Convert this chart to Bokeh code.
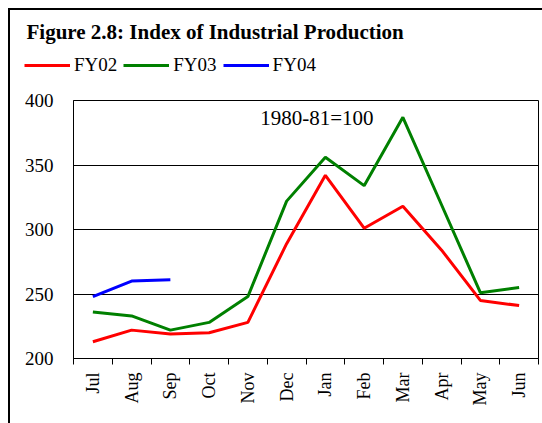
import math
from bokeh.plotting import figure
from bokeh.layouts import column
from bokeh.models import (Legend, LegendItem, Label, FixedTicker,
                          CustomJSTickFormatter, Range1d)
from bokeh.embed import file_html
from bokeh.resources import INLINE

months = ["Jul", "Aug", "Sep", "Oct", "Nov", "Dec", "Jan", "Feb", "Mar", "Apr", "May", "Jun"]
fy02 = [213, 222, 219, 220, 228, 289, 342, 301, 318, 284, 245, 241]
fy03 = [236, 233, 222, 228, 248, 322, 356, 334, 387, 319, 251, 255]
fy04 = [248, 260, 261]
y_ticks = [200, 250, 300, 350, 400]
series_names = ["FY02", "FY03", "FY04"]
series_colors = ["#FF0000", "#008000", "#0000FF"]

FONT = "Liberation Serif"
W = 532

xpos = [i + 0.5 for i in range(len(months))]
series = [fy02, fy03, fy04]

# ---- header: title + legend ----
head = figure(width=W, height=78, output_backend="svg", toolbar_location=None,
              x_axis_type=None, y_axis_type=None,
              x_range=Range1d(-100, -99), y_range=Range1d(-100, -99),
              min_border_left=0, min_border_right=0, min_border_top=33, min_border_bottom=0)
head.frame_align = False
head.outline_line_color = None
head.grid.grid_line_color = None
head.title.text = "Figure 2.8: Index of Industrial Production"
head.title.text_font = FONT
head.title.text_font_size = "21px"
head.title.text_font_style = "bold"
head.title.text_color = "black"
head.title.offset = 16
head.title.standoff = 0

# legend keys: same series drawn outside the header's visible range
keys = [head.line(xpos[:len(s)], s, line_color=c, line_width=3) for s, c in zip(series, series_colors)]
legend = Legend(items=[LegendItem(label=n, renderers=[r]) for n, r in zip(series_names, keys)],
                orientation="horizontal", location=(14, 12),
                label_text_font=FONT, label_text_font_size="19px", label_text_color="black",
                glyph_width=46, label_standoff=4, spacing=6,
                padding=0, margin=0, border_line_color=None, background_fill_alpha=0)
head.add_layout(legend)

# ---- main chart ----
p = figure(width=W, height=335, output_backend="svg", toolbar_location=None,
           x_range=Range1d(0, len(months)), y_range=Range1d(200, 400),
           min_border_left=63, min_border_right=4, min_border_top=12, min_border_bottom=65)

for s, c in zip(series, series_colors):
    p.line(xpos[:len(s)], s, line_color=c, line_width=3)

p.xaxis.ticker = FixedTicker(ticks=xpos, minor_ticks=list(range(len(months) + 1)))
p.xaxis.formatter = CustomJSTickFormatter(args=dict(m=months), code="return m[Math.floor(tick)];")
p.xaxis.major_tick_out = 0
p.xaxis.major_tick_in = 0
p.xaxis.minor_tick_out = 6
p.xaxis.minor_tick_in = 0
p.xaxis.major_label_orientation = math.pi / 2
p.xaxis.major_label_text_font = FONT
p.xaxis.major_label_text_font_size = "18px"
p.xaxis.major_label_text_color = "black"
p.xaxis.major_label_standoff = 8
p.xaxis.axis_line_color = "black"
p.xaxis.minor_tick_line_color = "black"

p.yaxis.ticker = FixedTicker(ticks=y_ticks)
p.yaxis.major_tick_out = 0
p.yaxis.major_tick_in = 0
p.yaxis.minor_tick_line_color = None
p.yaxis.major_label_text_font = FONT
p.yaxis.major_label_text_font_size = "19px"
p.yaxis.major_label_text_color = "black"
p.yaxis.major_label_standoff = 20
p.yaxis.axis_line_color = "black"

p.xgrid.grid_line_color = None
p.ygrid.ticker = FixedTicker(ticks=y_ticks)
p.ygrid.grid_line_color = "black"
p.ygrid.grid_line_alpha = 1
p.ygrid.grid_line_width = 1

p.outline_line_color = "black"
p.outline_line_alpha = 1
p.outline_line_width = 1

p.add_layout(Label(x=6.28, y=396, text="1980-81=100", text_font=FONT, text_font_size="21px",
                   text_align="center", text_baseline="top", text_color="black"))

layout = column(head, p, spacing=0)
layout.styles = {"margin-left": "8px", "margin-top": "8px",
                 "border-left": "2px solid black", "border-top": "2px solid black"}

open("out.html", "w").write(file_html(layout, INLINE))
